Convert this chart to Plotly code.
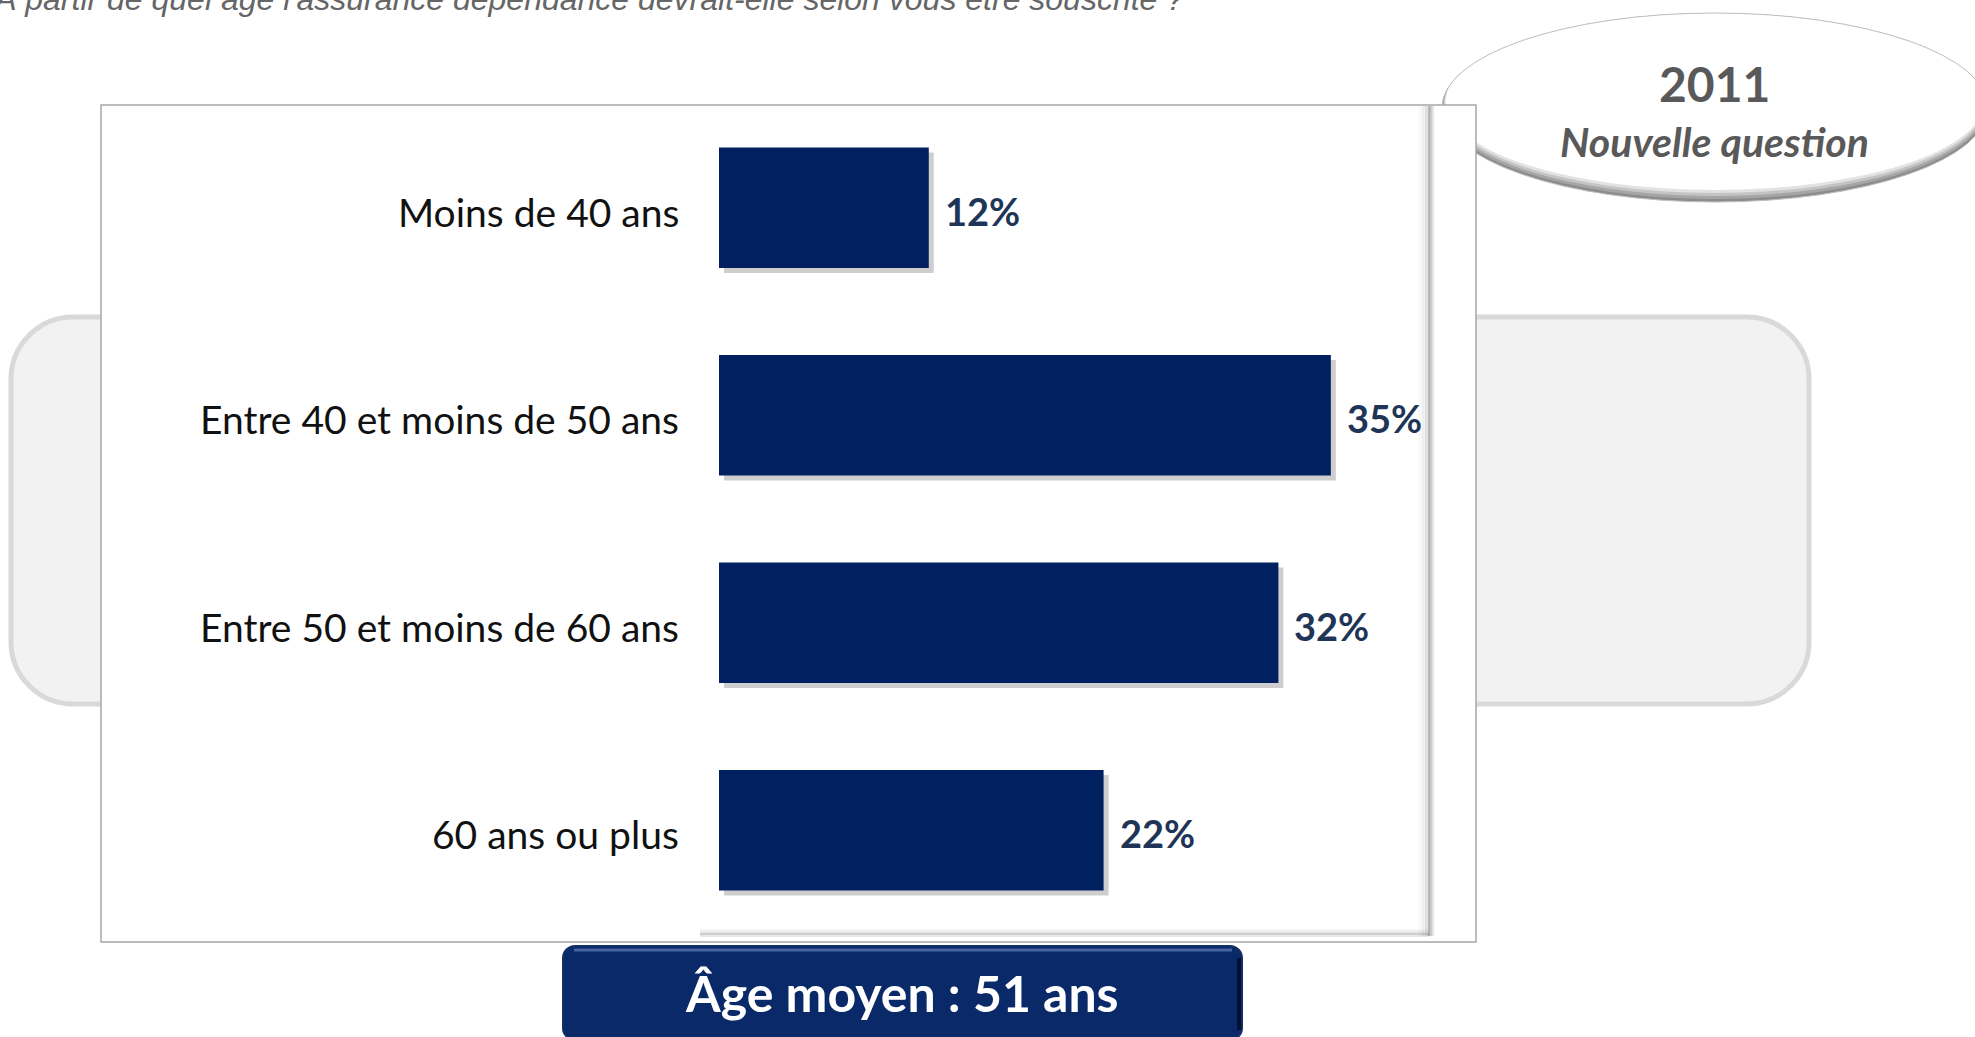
import plotly.graph_objects as go

categories = ["Moins de 40 ans", "Entre 40 et moins de 50 ans",
              "Entre 50 et moins de 60 ans", "60 ans ou plus"]
values = [12, 35, 32, 22]
value_labels = ["12%", "35%", "32%", "22%"]
question = "À partir de quel âge l'assurance dépendance devrait-elle selon vous être souscrite ?"
badge_year = "2011"
badge_note = "Nouvelle question"
mean_label = "Âge moyen : 51 ans"

W, H = 1975, 1037


def px(x):
    return x / W


def py(y):
    return 1 - y / H


PL, PR, PT, PB = 719, 1427, 104, 934
XMAX = 40.5
NAVY = "#00205F"
LABEL_FONT = "Lato"

shapes = []


def rounded_path(x0, y0, x1, y1, r):
    k = 0.55 * r
    p = f"M {px(x0 + r)},{py(y0)} L {px(x1 - r)},{py(y0)} "
    p += f"C {px(x1 - r + k)},{py(y0)} {px(x1)},{py(y0 + r - k)} {px(x1)},{py(y0 + r)} "
    p += f"L {px(x1)},{py(y1 - r)} "
    p += f"C {px(x1)},{py(y1 - r + k)} {px(x1 - r + k)},{py(y1)} {px(x1 - r)},{py(y1)} "
    p += f"L {px(x0 + r)},{py(y1)} "
    p += f"C {px(x0 + r - k)},{py(y1)} {px(x0)},{py(y1 - r + k)} {px(x0)},{py(y1 - r)} "
    p += f"L {px(x0)},{py(y0 + r)} "
    p += f"C {px(x0)},{py(y0 + r - k)} {px(x0 + r - k)},{py(y0)} {px(x0 + r)},{py(y0)} Z"
    return p


# grey rounded background band
shapes.append(dict(type="path", xref="paper", yref="paper",
                   path=rounded_path(11, 317, 1809, 704, 62),
                   fillcolor="#F2F2F2", line=dict(color="#D9D9D9", width=5),
                   layer="below"))

# oval badge with bottom shadow
ox0, ox1, oy0, oy1 = 1442, 1988, 13, 202
for dy, col in [(0, "#8C8C8C"), (3, "#A6A6A6"), (6, "#C4C4C4"), (9, "#E2E2E2"), (12, "#FFFFFF")]:
    shapes.append(dict(type="circle", xref="paper", yref="paper",
                       x0=px(ox0 + dy * 0.3), x1=px(ox1 - dy * 0.3),
                       y0=py(oy1 - dy), y1=py(oy0),
                       fillcolor=col, line=dict(width=0), layer="below"))
shapes.append(dict(type="circle", xref="paper", yref="paper",
                   x0=px(ox0), x1=px(ox1), y0=py(oy1), y1=py(oy0),
                   fillcolor="rgba(0,0,0,0)", line=dict(color="#BFBFBF", width=1),
                   layer="below"))

# white chart frame
shapes.append(dict(type="rect", xref="paper", yref="paper",
                   x0=px(101), x1=px(1476), y0=py(942), y1=py(105),
                   fillcolor="#FFFFFF", line=dict(color="#A6A6A6", width=1.5),
                   layer="below"))

# plot area soft shadow (right and bottom)
for off, a in [(-9, 0.05), (-6, 0.1), (-3, 0.2), (0, 0.42), (2, 0.28), (4, 0.12)]:
    shapes.append(dict(type="line", xref="paper", yref="paper",
                       x0=px(1429 + off), x1=px(1429 + off), y0=py(936), y1=py(106),
                       line=dict(color=f"rgba(90,90,90,{a})", width=2.5), layer="below"))
for off, a in [(-4, 0.06), (-2, 0.14), (0, 0.3), (2, 0.14)]:
    shapes.append(dict(type="line", xref="paper", yref="paper",
                       x0=px(700), x1=px(1429), y0=py(934 + off), y1=py(934 + off),
                       line=dict(color=f"rgba(90,90,90,{a})", width=2), layer="below"))

# "Âge moyen" box
shapes.append(dict(type="path", xref="paper", yref="paper",
                   path=rounded_path(563, 946, 1242, 1040, 12),
                   fillcolor="#0A2968", line=dict(color="#142F66", width=2),
                   layer="above"))
shapes.append(dict(type="line", xref="paper", yref="paper",
                   x0=px(574), x1=px(1232), y0=py(950), y1=py(950),
                   line=dict(color="rgba(120,150,210,0.55)", width=3), layer="above"))
shapes.append(dict(type="line", xref="paper", yref="paper",
                   x0=px(1239), x1=px(1239), y0=py(1030), y1=py(958),
                   line=dict(color="rgba(0,10,40,0.8)", width=4), layer="above"))

fig = go.Figure()

# bar drop shadow (drawn on the lower subplot)
fig.add_trace(go.Bar(
    x=values, y=categories, orientation="h",
    marker=dict(color="rgba(60,60,60,0.25)", line=dict(width=0)),
    xaxis="x", yaxis="y", hoverinfo="skip", showlegend=False))

# main bars
fig.add_trace(go.Bar(
    x=values, y=categories, orientation="h",
    marker=dict(color=NAVY, line=dict(width=0)),
    xaxis="x2", yaxis="y2", showlegend=False))

annotations = []
for c, v, t in zip(categories, values, value_labels):
    annotations.append(dict(x=v, y=c, xref="x2", yref="y2", text=f"<b>{t}</b>",
                            showarrow=False, xanchor="left", xshift=14, yshift=-3,
                            font=dict(family=LABEL_FONT, size=38, color="#1F3557")))
    annotations.append(dict(x=0, y=c, xref="x2", yref="y2", text=c,
                            showarrow=False, xanchor="right", xshift=-38, yshift=-4,
                            font=dict(family=LABEL_FONT, size=39, color="#111111")))

annotations += [
    dict(x=px(-9), y=py(-1), xref="paper", yref="paper", xanchor="left", yanchor="middle",
         text=f"<i>{question}</i>", showarrow=False,
         font=dict(family="Liberation Sans", size=32, color="#666666")),
    dict(x=px(1714), y=py(83), xref="paper", yref="paper", xanchor="center", yanchor="middle",
         text=f"<b>{badge_year}</b>", showarrow=False,
         font=dict(family=LABEL_FONT, size=48, color="#595959")),
    dict(x=px(1714), y=py(141), xref="paper", yref="paper", xanchor="center", yanchor="middle",
         text=f"<b><i>{badge_note}</i></b>", showarrow=False,
         font=dict(family=LABEL_FONT, size=41, color="#595959")),
    dict(x=px(902), y=py(993), xref="paper", yref="paper", xanchor="center", yanchor="middle",
         text=f"<b>{mean_label}</b>", showarrow=False,
         font=dict(family=LABEL_FONT, size=50, color="#FFFFFF")),
]

fig.update_layout(
    width=W, height=H,
    margin=dict(l=0, r=0, t=0, b=0),
    paper_bgcolor="#FFFFFF", plot_bgcolor="rgba(0,0,0,0)",
    bargap=0.42,
    shapes=shapes, annotations=annotations,
    xaxis=dict(domain=[px(PL + 5), px(PR + 5)], range=[0, XMAX], visible=False,
               fixedrange=True),
    yaxis=dict(domain=[py(PB + 5), py(PT + 5)], autorange="reversed", categoryorder="array",
               categoryarray=categories, visible=False),
    xaxis2=dict(domain=[px(PL), px(PR)], range=[0, XMAX], visible=False, anchor="y2",
                fixedrange=True),
    yaxis2=dict(domain=[py(PB), py(PT)], autorange="reversed", categoryorder="array",
                categoryarray=categories, anchor="x2", visible=False),
)

fig.write_html("out.html", post_script="document.body.style.margin='0px';",
               config={"displayModeBar": False})
